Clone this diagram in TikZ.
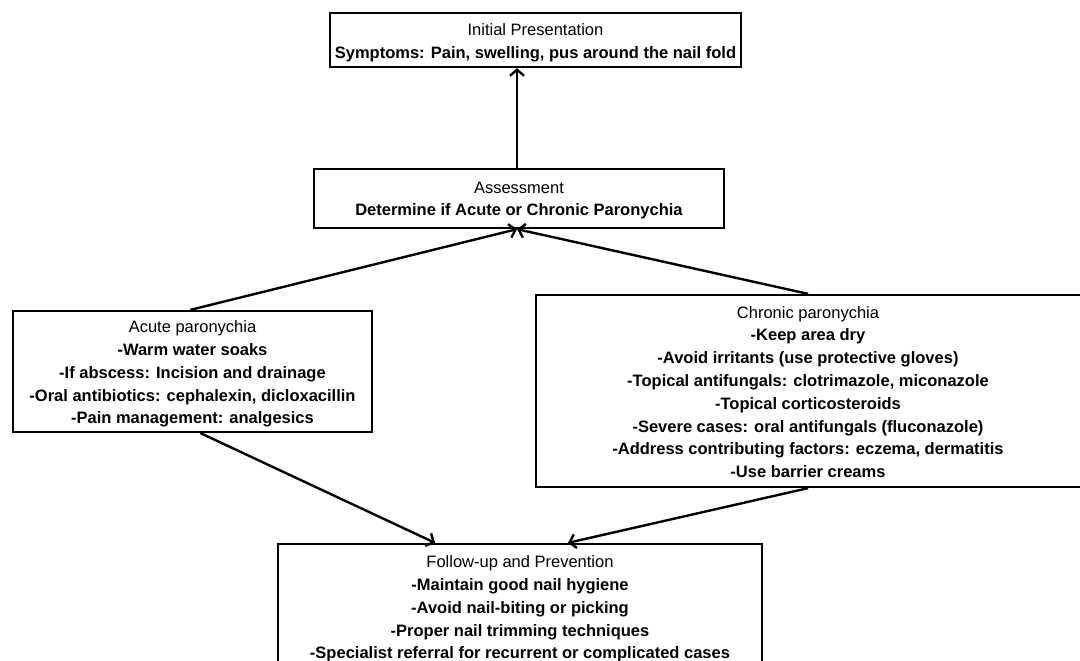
\documentclass[tikz,border=0pt]{standalone}
\usepackage{fontspec}
\setmainfont{Liberation Sans}
\usetikzlibrary{arrows.meta}
\begin{document}
\begin{tikzpicture}[x=1pt,y=-1pt,
  box/.style={draw=black,line width=2.3pt,inner sep=0pt},
  txt/.style={align=center,inner sep=0pt,font=\fontsize{16.5}{22.8}\selectfont},
  conn/.style={line width=2.4pt,-{Straight Barb[length=6pt,width=14pt,line width=2.4pt]}}]
\clip (0,0) rectangle (1080,661);
\fill[white] (0,0) rectangle (1080,661);
\node[box,minimum width=411pt,minimum height=54pt] (init) at (535.5,40) {};
\node[txt] (initT) at ([yshift=-2.5pt]init.center)
  {Initial Presentation\\\textbf{Symptoms: Pain, swelling, pus around the nail fold}};
\node[box,minimum width=410pt,minimum height=59pt] (assess) at (519,198.5) {};
\node[txt] (assessT) at ([yshift=-2pt]assess.center)
  {Assessment\\\textbf{Determine if Acute or Chronic Paronychia}};
\node[box,minimum width=359pt,minimum height=121pt] (acute) at (192.5,371.5) {};
\node[txt] (acuteT) at ([yshift=-2.5pt]acute.center)
  {Acute paronychia\\\textbf{-Warm water soaks}\\\textbf{-If abscess: Incision and drainage}\\\textbf{-Oral antibiotics: cephalexin, dicloxacillin}\\\textbf{-Pain management: analgesics}};
\node[box,minimum width=548pt,minimum height=192pt] (chronic) at (810,391) {};
\node[txt] (chronicT) at ([xshift=-2pt,yshift=-1pt]chronic.center)
  {Chronic paronychia\\\textbf{-Keep area dry}\\\textbf{-Avoid irritants (use protective gloves)}\\\textbf{-Topical antifungals: clotrimazole, miconazole}\\\textbf{-Topical corticosteroids}\\\textbf{-Severe cases: oral antifungals (fluconazole)}\\\textbf{-Address contributing factors: eczema, dermatitis}\\\textbf{-Use barrier creams}};
\node[box,minimum width=484pt,minimum height=128pt] (follow) at (520,608) {};
\node[txt] (followT) at ([yshift=-1pt]follow.center)
  {Follow-up and Prevention\\\textbf{-Maintain good nail hygiene}\\\textbf{-Avoid nail-biting or picking}\\\textbf{-Proper nail trimming techniques}\\\textbf{-Specialist referral for recurrent or complicated cases}};
\draw[conn] ([xshift=-2pt]assess.north) -- ([xshift=-2pt]assess.north |- init.south);
\draw[conn] ([xshift=-2pt]acute.north) -- ([xshift=-2pt]assess.south);
\draw[conn] ([xshift=-2pt]chronic.north) -- ([xshift=-2pt]assess.south);
\draw[conn] ([xshift=8pt]acute.south) -- ([xshift=-85pt]follow.north);
\draw[conn] ([xshift=-2pt]chronic.south) -- ([xshift=48pt]follow.north);
\end{tikzpicture}
\end{document}
